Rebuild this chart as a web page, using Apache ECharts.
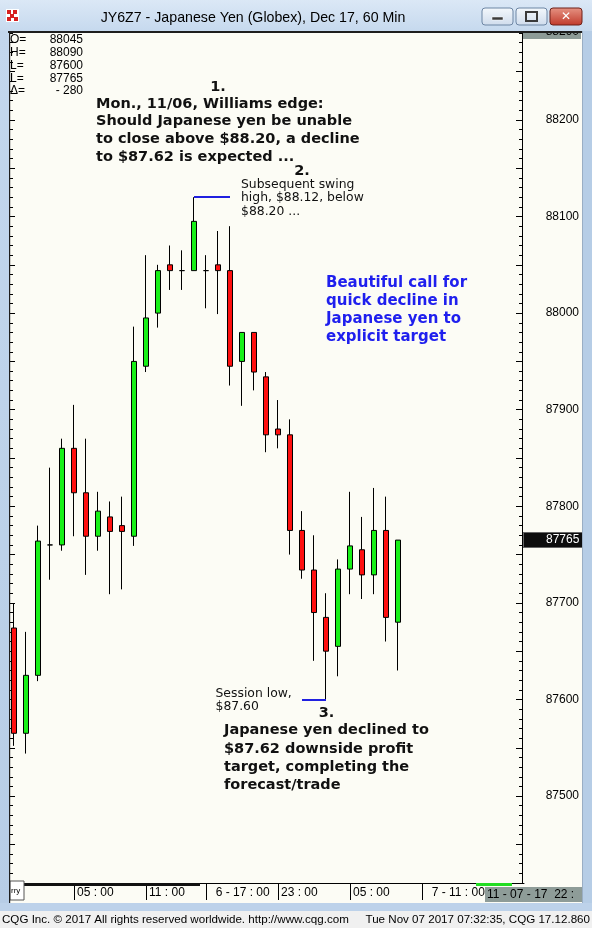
<!DOCTYPE html>
<html><head><meta charset="utf-8">
<script src="https://cdn.jsdelivr.net/npm/echarts@6/dist/echarts.min.js"></script>
<style>html,body{margin:0;padding:0;background:#fff}#c{width:592px;height:928px}</style>
</head><body><div id="c"></div>
<script>
// ---- data ----
const categories = [
  '11-06 00:00','11-06 01:00','11-06 02:00','11-06 03:00','11-06 04:00','11-06 05:00','11-06 06:00','11-06 07:00',
  '11-06 08:00','11-06 09:00','11-06 10:00','11-06 11:00','11-06 12:00','11-06 13:00','11-06 14:00','11-06 15:00',
  '11-06 17:00','11-06 18:00','11-06 19:00','11-06 20:00','11-06 21:00','11-06 22:00','11-06 23:00',
  '11-07 00:00','11-07 01:00','11-07 02:00','11-07 03:00','11-07 04:00','11-07 05:00','11-07 06:00','11-07 07:00',
  '11-07 08:00','11-07 09:00','11-07 10:00','11-07 11:00','11-07 12:00','11-07 13:00','11-07 14:00','11-07 15:00',
  '11-07 16:00','11-07 17:00','11-07 18:00','11-07 19:00'
];
const opens  = [87674,87565,87625,87760,87760,87860,87814,87769,87789,87780,87769,87945,88000,88050,88044,88044,88044,88050,88044,87950,87980,87934,87880,87874,87775,87734,87685,87655,87735,87755,87729,87775,87680];
const closes = [87565,87625,87764,87760,87860,87814,87769,87795,87774,87774,87950,87995,88044,88044,88044,88095,88044,88044,87945,87980,87939,87874,87874,87775,87734,87690,87650,87735,87759,87729,87775,87685,87765];
const lows   = [87552,87544,87619,87724,87754,87769,87729,87754,87709,87714,87759,87939,87985,88024,88024,88044,88005,87999,87925,87904,87920,87856,87860,87750,87725,87640,87600,87624,87709,87704,87709,87660,87630];
const highs  = [87699,87670,87780,87840,87870,87905,87870,87815,87805,87810,87986,88060,88050,88070,88065,88120,88060,88085,88090,87980,87980,87939,87910,87890,87795,87770,87710,87745,87815,87789,87819,87810,87765];
const timeTickIndex = [5, 11, 16, 22, 28, 34];
const timeTickText  = ['05 : 00', '11 : 00', '  6 - 17 : 00', '23 : 00', '05 : 00', '  7 - 11 : 00'];
const priceLabels = [87500, 87600, 87700, 87800, 87900, 88000, 88100, 88200];
const priceMajorTicks = [87450, 87500, 87550, 87600, 87650, 87700, 87750, 87800, 87850, 87900, 87950, 88000, 88050, 88100, 88150, 88200, 88250];
const swingHigh = [15, 18, 88120];
const sessionLow = [24, 26, 87600];
const lastPrice = 87765;
const headerLabels = ['O=', 'H=', 'L=', 'L=', 'Δ='];
const headerValues = ['88045', '88090', '87600', '87765', '- 280'];

const candleData = opens.map((o, i) => [o, closes[i], lows[i], highs[i]]);

const F = '"Liberation Sans", Arial, sans-serif';
const V = '"DejaVu Sans", Verdana, sans-serif';

function txt(x, y, text, font, fill, align, vAlign, lh, z) {
  return { type: 'text', x: x, y: y, z: z || 60, silent: true,
    style: { text: text, font: font, fill: fill, align: align || 'left', textAlign: align || 'left',
      verticalAlign: vAlign || 'top', textVerticalAlign: vAlign || 'top', lineHeight: lh } };
}
function rect(x, y, w, h, fill, z, extra) {
  return Object.assign({ type: 'rect', z: z || 100, silent: true, shape: { x: x, y: y, width: w, height: h },
    style: { fill: fill } }, extra || {});
}
const LG = (a, b) => new echarts.graphic.LinearGradient(0, 0, 0, 1, [{ offset: 0, color: a }, { offset: 1, color: b }]);

const graphics = [
  // annotations
  txt(218, 87, '1.', 'bold 14.5px ' + V, '#111', 'center', 'middle'),
  txt(96, 95, 'Mon., 11/06, Williams edge:\nShould Japanese yen be unable\nto close above $88.20, a decline\nto $87.62 is expected ...', 'bold 14.5px ' + V, '#111', 'left', 'top', 17.8),
  txt(302, 171, '2.', 'bold 14.5px ' + V, '#111', 'center', 'middle'),
  txt(241, 177.5, 'Subsequent swing\nhigh, $88.12, below\n$88.20 ...', '12.4px ' + V, '#111', 'left', 'top', 13.7),
  txt(326, 274, 'Beautiful call for\nquick decline in\nJapanese yen to\nexplicit target', 'bold 15px ' + V, '#1f1fee', 'left', 'top', 18),
  txt(215.5, 687, 'Session low,\n$87.60', '12.4px ' + V, '#111', 'left', 'top', 13.5),
  txt(326.5, 713, '3.', 'bold 14.5px ' + V, '#111', 'center', 'middle'),
  txt(224, 721.6, 'Japanese yen declined to\n$87.62 downside profit\ntarget, completing the\nforecast/trade', 'bold 14.5px ' + V, '#111', 'left', 'top', 18.2),
  // header OHLC
  txt(10, 33.6, headerLabels.join('\n'), '12px ' + F, '#000', 'left', 'top', 12.75),
  txt(83, 33.6, headerValues.join('\n'), '12px ' + F, '#000', 'right', 'top', 12.75),
  // time-scroll bars at bottom of plot
  rect(23, 883, 177, 3, '#111', 10),
  rect(476, 883, 36, 3, '#22dd22', 10),
  // top-right gray price box (partly hidden under frame)
  rect(523, 24, 58, 15, '#8d9b97', 90),
  txt(579, 31.5, '88290', '12px ' + F, '#000', 'right', 'middle', null, 91),
  // bottom-right time box
  rect(485, 887, 97, 15, '#8e9c98', 90),
  txt(487, 894.5, '11 - 07 - 17  22 :', '12px ' + F, '#000', 'left', 'middle', null, 91),
  // bottom-left icon
  rect(10, 881, 14, 19, '#ffffff', 95, { style: { fill: '#fff', stroke: '#555', lineWidth: 1 } }),
  txt(11, 890.5, 'rry', '8px ' + F, '#000', 'left', 'middle', null, 96),
  // window chrome
  rect(0, 0, 592, 31, LG('#dbe8f6', '#c6d9ee'), 100),
  rect(8, 31, 575, 2, '#1e1e1e', 101),
  rect(0, 31, 9, 880, LG('#c3d7ed', '#b7cde6'), 100),
  rect(9, 31, 1.2, 872, '#1e1e1e', 101),
  rect(582, 31, 10, 880, '#b6cde6', 100),
  rect(582, 31, 1, 872, '#9aaec4', 101),
  rect(0, 903, 592, 8, '#bdd2ea', 100),
  rect(0, 911, 592, 17, '#f0f0f0', 100),
  txt(2, 920, 'CQG Inc. © 2017 All rights reserved worldwide. http://www.cqg.com', '11.6px ' + F, '#000', 'left', 'middle', null, 101),
  txt(590, 920, 'Tue Nov 07 2017 07:32:35, CQG 17.12.860', '11.6px ' + F, '#000', 'right', 'middle', null, 101),
  txt(253, 18, 'JY6Z7 - Japanese Yen (Globex), Dec 17, 60 Min', '14.2px ' + F, '#000', 'center', 'middle', null, 102),
  // app icon
  rect(6, 9, 13, 13, '#ffffff', 101),
  rect(7, 10, 4, 4, '#d62020', 102), rect(13, 10, 4, 4, '#d62020', 102),
  rect(10, 14, 4, 4, '#d62020', 102), rect(7, 17, 4, 4, '#d62020', 102), rect(14, 17, 4, 4, '#d62020', 102),
  // window buttons
  rect(482, 8, 31, 17, LG('#f4f8fc', '#cfdcec'), 101, { shape: { x: 482, y: 8, width: 31, height: 17, r: 3 }, style: { fill: LG('#f4f8fc', '#cfdcec'), stroke: '#6d86a4', lineWidth: 1 } }),
  rect(492, 17, 11, 3, '#3a3a3a', 102, { style: { fill: '#3a3a3a', stroke: '#fff', lineWidth: 0.5 } }),
  rect(516, 8, 31, 17, LG('#f4f8fc', '#cfdcec'), 101, { shape: { x: 516, y: 8, width: 31, height: 17, r: 3 }, style: { fill: LG('#f4f8fc', '#cfdcec'), stroke: '#6d86a4', lineWidth: 1 } }),
  rect(526, 12, 11, 9, 'none', 102, { style: { fill: 'none', stroke: '#3a3a3a', lineWidth: 2 } }),
  rect(550, 8, 32, 17, LG('#e69484', '#c0392a'), 101, { shape: { x: 550, y: 8, width: 32, height: 17, r: 3 }, style: { fill: LG('#e69484', '#c0392a'), stroke: '#6e2118', lineWidth: 1 } }),
  txt(566, 16.5, '✕', 'bold 12px ' + V, '#ffffff', 'center', 'middle', null, 102)
];

const chart = echarts.init(document.getElementById('c'), null, { renderer: 'canvas' });
const labelIdx = (i) => timeTickIndex.indexOf(i) >= 0;
chart.setOption({
  animation: false,
  backgroundColor: '#fcfcf5',
  grid: { left: 8, right: 68, top: 33, bottom: 45 },
  xAxis: {
    type: 'category', data: categories, boundaryGap: true,
    axisLine: { show: true, lineStyle: { color: '#000', width: 1 } },
    axisTick: { show: true, alignWithLabel: true, interval: (i) => labelIdx(i), length: 17, lineStyle: { color: '#000' } },
    axisLabel: { interval: (i) => labelIdx(i), formatter: (v, i) => timeTickText[timeTickIndex.indexOf(i)] || '',
      align: 'left', margin: 4, color: '#000', fontSize: 12, fontFamily: F, padding: [0, 0, 0, 3] },
    splitLine: { show: false }
  },
  yAxis: [
    { type: 'value', position: 'right', offset: -2, min: 87410, max: 88290, scale: true,
      axisLine: { show: true, lineStyle: { color: '#000' } },
      axisTick: { show: true, inside: true, length: 6, customValues: priceMajorTicks, lineStyle: { color: '#000' } },
      axisLabel: { customValues: priceLabels, formatter: (v) => String(v), align: 'right', margin: 57, color: '#000', fontSize: 12, fontFamily: F },
      splitLine: { show: false } },
    { type: 'value', position: 'right', offset: -2, min: 87410, max: 88290, interval: 10, scale: true,
      axisLine: { show: false },
      axisTick: { show: true, inside: true, length: 3, lineStyle: { color: '#000' } },
      axisLabel: { show: false }, splitLine: { show: false } },
    { type: 'value', position: 'left', offset: -2, min: 87410, max: 88290, scale: true,
      axisLine: { show: false },
      axisTick: { show: true, inside: true, length: 5, customValues: priceMajorTicks, lineStyle: { color: '#000' } },
      axisLabel: { show: false }, splitLine: { show: false } },
    { type: 'value', position: 'left', offset: -2, min: 87410, max: 88290, interval: 10, scale: true,
      axisLine: { show: false },
      axisTick: { show: true, inside: true, length: 3, lineStyle: { color: '#000' } },
      axisLabel: { show: false }, splitLine: { show: false } }
  ],
  series: [{
    type: 'candlestick', data: candleData, barWidth: 5, yAxisIndex: 0,
    itemStyle: { color: '#18f018', color0: '#ff1010', borderColor: '#000', borderColor0: '#000', borderColorDoji: '#000', borderWidth: 1 },
    markLine: {
      silent: true, symbol: 'none', animation: false,
      label: { show: false },
      data: [
        [{ coord: [swingHigh[0], swingHigh[2]], lineStyle: { color: '#2020e0', width: 2, type: 'solid' } }, { coord: [swingHigh[1], swingHigh[2]] }],
        [{ coord: [sessionLow[0], sessionLow[2]], lineStyle: { color: '#2020e0', width: 2, type: 'solid' } }, { coord: [sessionLow[1], sessionLow[2]] }],
        { yAxis: lastPrice, lineStyle: { color: 'rgba(0,0,0,0)', width: 1 },
          label: { show: true, position: 'end', distance: 0, formatter: String(lastPrice), color: '#fff',
            backgroundColor: '#0d0d0d', borderColor: '#666', borderWidth: 1, padding: [1, 3, 0, 22],
            fontSize: 12, fontFamily: F, lineHeight: 13 } }
      ]
    }
  }],
  graphic: { elements: graphics }
});
</script>
</body></html>
